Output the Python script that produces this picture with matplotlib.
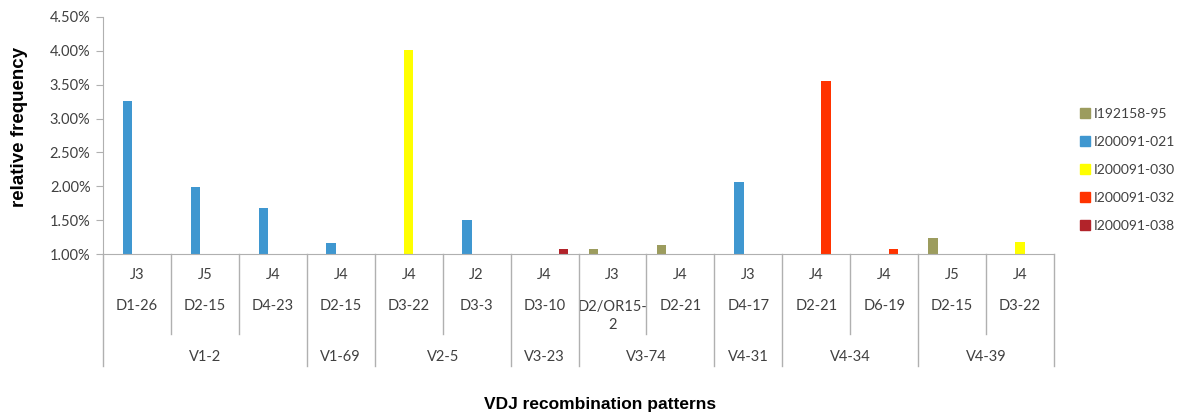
import matplotlib.pyplot as plt
import matplotlib.transforms as mtransforms
from matplotlib.lines import Line2D
from matplotlib.patches import Patch
import numpy as np

# data (percent)
j_labels = ["J3", "J5", "J4", "J4", "J4", "J2", "J4", "J3", "J4", "J3", "J4", "J4", "J5", "J4"]
d_labels = ["D1-26", "D2-15", "D4-23", "D2-15", "D3-22", "D3-3", "D3-10", "D2/OR15-\n2",
            "D2-21", "D4-17", "D2-21", "D6-19", "D2-15", "D3-22"]
v_labels = ["V1-2", "V1-69", "V2-5", "V3-23", "V3-74", "V4-31", "V4-34", "V4-39"]
v_sizes = [3, 1, 2, 1, 2, 1, 2, 2]

series_names = ["I192158-95", "I200091-021", "I200091-030", "I200091-032", "I200091-038"]
series_colors = ["#9C9C5E", "#3F97D0", "#FFFF00", "#FF3300", "#B2232A"]
s_192158_95 = [0, 0, 0, 0, 0, 0, 0, 1.08, 1.13, 0, 0, 0, 1.23, 0]
s_200091_021 = [3.26, 1.99, 1.68, 1.16, 0, 1.50, 0, 0, 0, 2.06, 0, 0, 0, 0]
s_200091_030 = [0, 0, 0, 0, 4.01, 0, 0, 0, 0, 0, 0, 0, 0, 1.17]
s_200091_032 = [0, 0, 0, 0, 0, 0, 0, 0, 0, 0, 3.555, 1.08, 0, 0]
s_200091_038 = [0, 0, 0, 0, 0, 0, 1.07, 0, 0, 0, 0, 0, 0, 0]
series = [s_192158_95, s_200091_021, s_200091_030, s_200091_032, s_200091_038]

W, H = 1186, 420
fig = plt.figure(figsize=(W / 100, H / 100), dpi=100)
ax = fig.add_axes([103 / W, 1 - 254 / H, (1054 - 103) / W, (254 - 17) / H])

tick_font = "Lato"
gray_txt = "#404040"
line_col = "#B0B0B0"

n = len(j_labels)
x = np.arange(n)
bw = 0.14
base = 1.0
for i, (vals, col, name) in enumerate(zip(series, series_colors, series_names)):
    vals = np.array(vals, dtype=float)
    h = np.where(vals > 0, vals - base, 0)
    ax.bar(x + (i - 2) * bw, h, bottom=base, width=bw, color=col, label=name)

ax.set_xlim(-0.5, n - 0.5)
ax.set_ylim(1.0, 4.5)
yt = np.arange(1.0, 4.51, 0.5)
ax.set_yticks(yt)
ax.set_yticklabels(["%.2f%%" % v for v in yt], fontfamily=tick_font, fontsize=10.5, color=gray_txt)
ax.set_xticks([])
ax.tick_params(axis="y", length=5, color=line_col, pad=4)
for s in ["top", "right"]:
    ax.spines[s].set_visible(False)
for s in ["left", "bottom"]:
    ax.spines[s].set_color(line_col)

# hierarchical category table below the axis
trans = mtransforms.blended_transform_factory(ax.transData, fig.transFigure)
def fy(py):
    return 1 - py / H

for k in range(n):
    ax.text(k, fy(275), j_labels[k], transform=trans, ha="center", va="center",
            fontfamily=tick_font, fontsize=10.5, color=gray_txt)
    ax.text(k, fy(306) if "\n" not in d_labels[k] else fy(316), d_labels[k], transform=trans,
            ha="center", va="center", fontfamily=tick_font, fontsize=10.5, color=gray_txt,
            linespacing=1.4)

edges = np.cumsum([0] + v_sizes)
for k in range(n + 1):
    xe = k - 0.5
    bottom = fy(366) if k in edges else fy(334)
    fig.add_artist(Line2D([xe, xe], [fy(254), bottom], transform=trans, color=line_col, lw=1))

for g, lab in enumerate(v_labels):
    xc = (edges[g] + edges[g + 1] - 1) / 2
    ax.text(xc, fy(357), lab, transform=trans, ha="center", va="center",
            fontfamily=tick_font, fontsize=10.5, color=gray_txt)

fig.text(20 / W, fy(127), "relative frequency", rotation=90, ha="center", va="center",
         fontfamily="Liberation Sans", fontweight="bold", fontsize=13.5)
fig.text(600 / W, fy(405), "VDJ recombination patterns", ha="center", va="center",
         fontfamily="Liberation Sans", fontweight="bold", fontsize=12.5)

handles = [Patch(color=c, label=nm) for c, nm in zip(series_colors, series_names)]
leg = fig.legend(handles=handles, loc="center left", bbox_to_anchor=(1080 / W, fy(170)),
                 frameon=False, borderpad=0, borderaxespad=0,
                 handlelength=0.75, handleheight=0.75, handletextpad=0.25,
                 labelspacing=1.15, prop={"family": tick_font, "size": 10})
for t in leg.get_texts():
    t.set_color(gray_txt)

plt.savefig("out.png", dpi=100)
